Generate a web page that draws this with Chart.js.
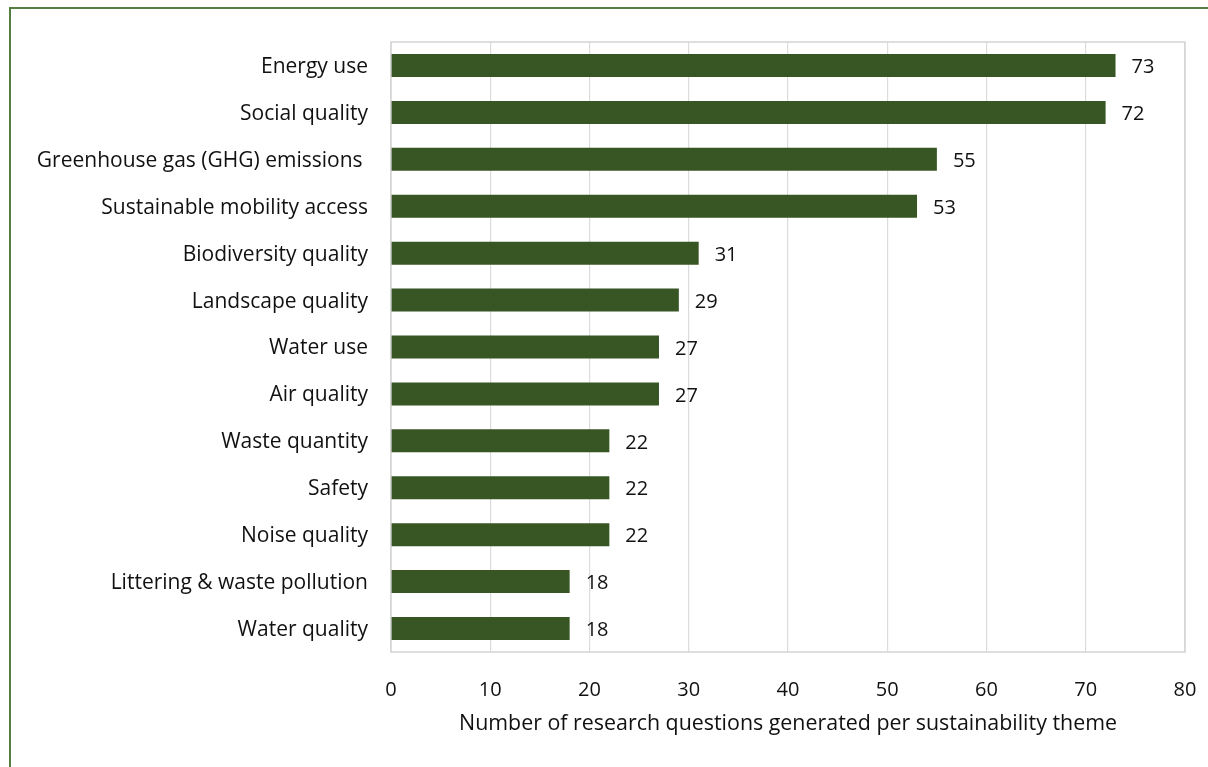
<!DOCTYPE html>
<html>
<head>
<meta charset="utf-8">
<script src="https://cdn.jsdelivr.net/npm/chart.js@4/dist/chart.umd.min.js"></script>
<style>
  html, body { margin: 0; padding: 0; background: #fff; }
  #wrap { position: relative; width: 1208px; height: 767px; overflow: hidden; }
  #frame { position: absolute; left: 9px; top: 7px; width: 1300px; height: 900px;
           border: 2px solid #557d40; box-sizing: border-box; pointer-events: none; }
  canvas { position: absolute; left: 0; top: 0; }
</style>
</head>
<body>
<div id="wrap">
  <canvas id="chart" width="1208" height="767"></canvas>
  <div id="frame"></div>
</div>
<script>
// Data
const themes = [
    "Energy use", "Social quality", "Greenhouse gas (GHG) emissions ",
    "Sustainable mobility access", "Biodiversity quality", "Landscape quality",
    "Water use", "Air quality", "Waste quantity", "Safety", "Noise quality",
    "Littering & waste pollution", "Water quality"
];
const questionCounts = [73, 72, 55, 53, 31, 29, 27, 27, 22, 22, 22, 18, 18];
const xTicks = [0, 10, 20, 30, 40, 50, 60, 70, 80];
const xTitle = "Number of research questions generated per sustainability theme";

const FONT = "'Open Sans', 'Noto Sans', sans-serif";

// value labels at the end of each bar
const valueLabels = {
    id: 'valueLabels',
    afterDatasetsDraw(chart) {
        const ctx = chart.ctx;
        const meta = chart.getDatasetMeta(0);
        ctx.save();
        ctx.font = "20px " + FONT;
        ctx.fillStyle = "#111";
        ctx.textAlign = "left";
        ctx.textBaseline = "middle";
        meta.data.forEach((bar, i) => {
            ctx.fillText(String(questionCounts[i]), bar.x + 16, bar.y + 2);
        });
        ctx.restore();
    }
};

// light box round the plot area
const plotBox = {
    id: 'plotBox',
    beforeDatasetsDraw(chart) {
        const a = chart.chartArea;
        const ctx = chart.ctx;
        ctx.save();
        ctx.strokeStyle = "#d4d4d4";
        ctx.lineWidth = 1.5;
        ctx.strokeRect(a.left, a.top, a.right - a.left, a.bottom - a.top);
        ctx.restore();
    }
};

new Chart(document.getElementById('chart').getContext('2d'), {
    type: 'bar',
    data: {
        labels: themes,
        datasets: [{
            data: questionCounts,
            backgroundColor: '#375623',
            borderWidth: 0,
            categoryPercentage: 0.98,
            barPercentage: 0.5
        }]
    },
    options: {
        indexAxis: 'y',
        responsive: false,
        animation: false,
        layout: { padding: { left: 0, top: 42, right: 23, bottom: 0 } },
        plugins: {
            legend: { display: false },
            tooltip: { enabled: false }
        },
        scales: {
            x: {
                min: 0,
                max: 80,
                afterBuildTicks: s => { s.ticks = xTicks.map(v => ({ value: v })); },
                afterFit: s => { s.height = 115; s.paddingRight = 0; s.paddingLeft = 0; },
                grid: { color: '#dcdcdc', lineWidth: 1.2, drawTicks: false },
                border: { display: false },
                ticks: { font: { family: FONT, size: 20 }, color: '#111', padding: 26 },
                title: {
                    display: true,
                    text: xTitle,
                    font: { family: FONT, size: 21.4 },
                    color: '#111',
                    padding: { top: 0, bottom: 30 }
                }
            },
            y: {
                afterFit: s => { s.width = 391; },
                grid: { display: false, drawTicks: false },
                border: { display: false },
                ticks: { font: { family: FONT, size: 21 }, color: '#111', padding: 23, labelOffset: 1.5 }
            }
        }
    },
    plugins: [plotBox, valueLabels]
});
</script>
</body>
</html>
